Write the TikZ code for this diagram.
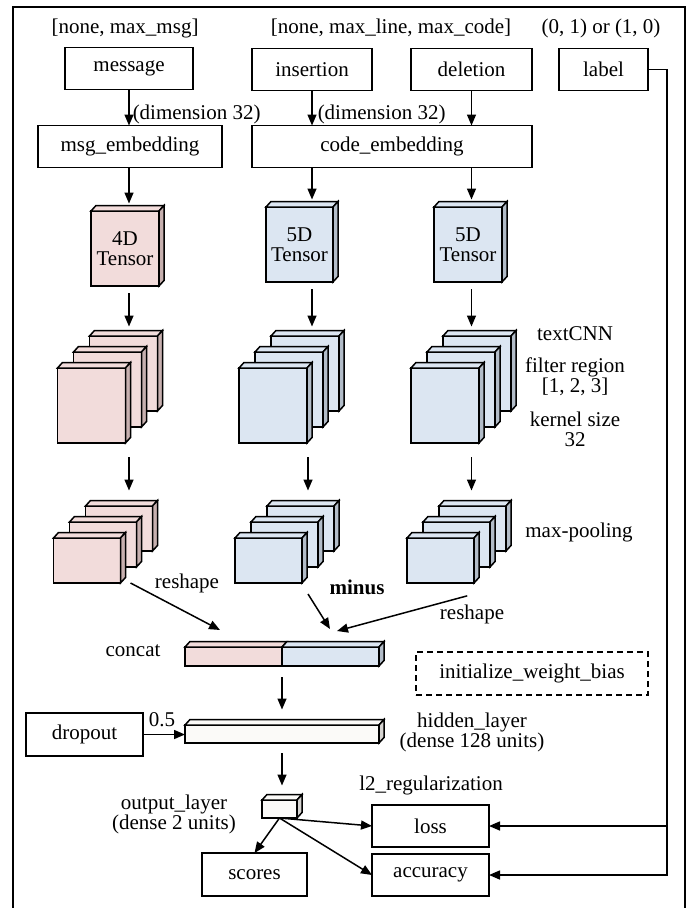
\documentclass[tikz,border=0pt]{standalone}
\usepackage{fontspec}
\setmainfont{Liberation Serif}
\usepackage{tikz}
\usetikzlibrary{arrows.meta, calc, positioning}
\definecolor{msgpink}{RGB}{242, 220, 219}
\definecolor{msgpinkside}{RGB}{199, 176, 175}
\definecolor{codeblue}{RGB}{220, 230, 242}
\definecolor{codeblueside}{RGB}{178, 188, 200}
\definecolor{densecream}{RGB}{251, 250, 248}
\definecolor{densecreamside}{RGB}{214, 212, 209}

% top and right faces of a block drawn as a node
\newcommand{\topface}[2]{%
  \draw[face,fill=#2] (#1.north west) -- ++(5,-5.5) -- ([shift={(5,-5.5)}]#1.north east) -- (#1.north east) -- cycle;
  \coordinate (#1-top) at ([shift={(2.5,-5.5)}]#1.north);}
\newcommand{\sideface}[2]{%
  \draw[face,fill=#2] (#1.north east) -- ++(5,-5.5) -- ([shift={(5,-5.5)}]#1.south east) -- (#1.south east) -- cycle;}

\begin{document}
\fontsize{21}{20}\selectfont
\begin{tikzpicture}[x=1pt, y=-1pt, >={Triangle[length=11pt,width=9pt]},
    box/.style={draw, line width=1.5pt, minimum height=42, outer sep=0pt},
    face/.style={draw, line width=1.5pt, outer sep=0pt, inner sep=0pt, align=center},
    conn/.style={->, line width=1.5pt}]
    \useasboundingbox (0,0) rectangle (693,908);
    \draw[line width=1.6pt] (13,915) -- (13,7) -- (685,7) -- (685,915);

    % inputs
    \node (msgshape) at (125,28) {[none, max\_msg]};
    \node (codeshape) at (391,28) {[none, max\_line, max\_code]};
    \node (labelshape) at (601,28) {(0, 1) or (1, 0)};

    \node[box, minimum width=128] (message) at (129,68.5) {message};
    \node[box, minimum width=120] (insertion) at (312,69.5) {insertion};
    \node[box, minimum width=121] (deletion) at (471.5,69.5) {deletion};
    \node[box, minimum width=89] (label) at (603.5,69.5) {label};

    \node[box, minimum width=184] (msgemb) at (130,146.5) {msg\_embedding};
    \node[box, minimum width=280] (codeemb) at (392,146.5) {code\_embedding};

    \draw[conn] (message.south) -- (message.south |- msgemb.north)
        node[right, pos=0.68, inner sep=3pt] {(dimension 32)};
    \draw[conn] (insertion.south) -- (insertion.south |- codeemb.north)
        node[right, pos=0.68, inner sep=5pt] {(dimension 32)};
    \draw[conn] (deletion.south) -- (deletion.south |- codeemb.north);

    % tensors
    \node[face, fill=msgpink, minimum width=68, minimum height=75] (tensormsg) at (125,248.5) {4D\\Tensor};
    \topface{tensormsg}{msgpink}\sideface{tensormsg}{msgpinkside}
    \node[face, fill=codeblue, minimum width=67, minimum height=75] (tensorins) at (299.5,244.5) {5D\\Tensor};
    \topface{tensorins}{codeblue}\sideface{tensorins}{codeblueside}
    \node[face, fill=codeblue, minimum width=68, minimum height=75] (tensordel) at (468,244.5) {5D\\Tensor};
    \topface{tensordel}{codeblue}\sideface{tensordel}{codeblueside}

    \draw[conn, shorten >=2pt] (msgemb.south -| message) -- (message |- tensormsg-top);
    \draw[conn, shorten >=2pt] (codeemb.south -| insertion) -- (insertion |- tensorins-top);
    \draw[conn, shorten >=2pt] (codeemb.south -| deletion) -- (deletion |- tensordel-top);

    % textCNN and max-pooling stacks
    \foreach \col/\cx/\fc/\sc in {msg/91.5/msgpink/msgpinkside, ins/273/codeblue/codeblueside, del/445/codeblue/codeblueside}{
      \foreach \k/\d in {a/32,b/16,c/0}{
        \node[face, fill=\fc, minimum width=68, minimum height=75] (cnn\col\k) at (\cx+\d,405.5-\d) {};
        \topface{cnn\col\k}{\fc}\sideface{cnn\col\k}{\sc}
      }
      \foreach \k/\d in {a/32,b/16,c/0}{
        \node[face, fill=\fc, minimum width=67, minimum height=45] (pool\col\k) at (\cx-4.5+\d,560.5-\d) {};
        \topface{pool\col\k}{\fc}\sideface{pool\col\k}{\sc}
      }
    }

    \draw[conn, shorten <=7pt, shorten >=4pt] (tensormsg.south -| message) -- (message |- cnnmsga-top);
    \draw[conn, shorten <=7pt, shorten >=4pt] (tensorins.south -| insertion) -- (insertion |- cnninsa-top);
    \draw[conn, shorten <=7pt, shorten >=4pt] (tensordel.south -| deletion) -- (deletion |- cnndela-top);

    \draw[conn, shorten <=14pt, shorten >=10pt] (cnnmsgc.south -| message) -- (message |- poolmsga-top);
    \draw[conn, shorten <=14pt, shorten >=10pt] ([xshift=-4pt]cnninsc.south -| insertion) -- ([xshift=-4pt]insertion |- poolinsa-top);
    \draw[conn, shorten <=14pt, shorten >=10pt] (cnndelc.south -| deletion) -- (deletion |- pooldela-top);

    \node (cnnlbl) at (575,334) {textCNN};
    \node[align=center] (filterlbl) at (575,377) {filter region\\{}[1, 2, 3]};
    \node[align=center] (kernellbl) at (575,429) {kernel size\\32};
    \node (poolinglbl) at (579,532) {max-pooling};

    % concat
    \node[face, fill=msgpink, minimum width=97, minimum height=19] (catmsg) at (233.5,656.5) {};
    \node[face, fill=codeblue, minimum width=97, minimum height=19] (catcode) at (330.5,656.5) {};
    \topface{catmsg}{msgpink}\topface{catcode}{codeblue}\sideface{catcode}{codeblueside}
    \node (concatlbl) at (133,651) {concat};

    \coordinate (catinL) at (220,630);
    \coordinate (catinM) at (330,629);
    \coordinate (catinR) at (337,631);
    \draw[conn] ([xshift=10pt]poolmsgc.south east) -- (catinL);
    \draw[conn] ([xshift=6pt,yshift=-11pt]poolinsc.south east) -- (catinM);
    \draw[conn, shorten <=7pt] ([yshift=-11pt]pooldelc.south east) -- (catinR);
    \node (reshapeL) at (187,583) {reshape};
    \node[font=\bfseries] (minus) at (357,587) {minus};
    \node (reshapeR) at (472,614) {reshape};

    \node[box, dashed, dash pattern=on 6pt off 4pt, line width=1.2pt, minimum width=232, minimum height=43] (initwb) at (532,673.5) {initialize\_weight\_bias};

    % dense layers
    \node[face, fill=densecream, minimum width=194, minimum height=18] (hidden) at (282,734) {};
    \topface{hidden}{densecream}\sideface{hidden}{densecreamside}
    \node[box, minimum width=117, minimum height=43] (dropout) at (84.5,734.5) {dropout};
    \draw[conn] (dropout.east) -- (dropout.east -| hidden.west) node[above, pos=0.45, inner sep=7pt] {0.5};
    \draw[conn, shorten <=11pt, shorten >=10pt] (catcode.south west) -- (catcode.south west |- hidden-top);
    \node[align=center] (hiddenlbl) at (472,732.5) {hidden\_layer\\(dense 128 units)};

    \node[face, fill=densecream, minimum width=35, minimum height=18] (output) at (279.5,809) {};
    \topface{output}{densecream}\sideface{output}{densecreamside}
    \draw[conn, shorten <=10pt, shorten >=9pt] (hidden.south -| catcode.south west) -- (catcode.south west |- output-top);
    \node[align=center] (outputlbl) at (174,814.5) {output\_layer\\(dense 2 units)};

    % outputs
    \node[box, minimum width=105, minimum height=43] (scores) at (254.5,874.5) {scores};
    \node[box, minimum width=117] (loss) at (430.5,826) {loss};
    \node[box, minimum width=117] (accuracy) at (430.5,875) {accuracy};
    \node (l2lbl) at (431,785) {l2\_regularization};

    \draw[conn] (output.south) -- (scores.north);
    \draw[conn] (output.south) -- (loss.west);
    \draw[conn] (output.south) -- (accuracy.west);
    \draw[conn] (label.east) -- ++(19,0) |- (loss.east);
    \draw[conn] (label.east) -- ++(19,0) |- (accuracy.east);
\end{tikzpicture}
\end{document}
